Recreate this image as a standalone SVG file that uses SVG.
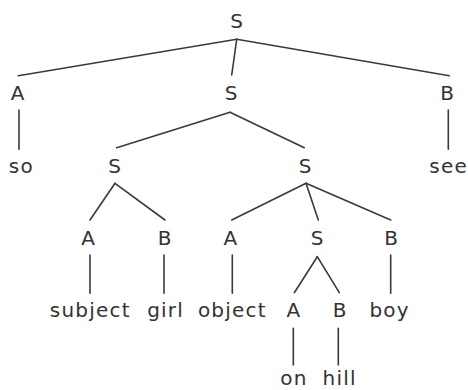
<svg xmlns="http://www.w3.org/2000/svg" width="468" height="390" viewBox="0 0 468 390">
<style>
text{font-family:"DejaVu Sans",Verdana,sans-serif;font-size:20px;fill:#333;text-anchor:middle}
.w{letter-spacing:1.2px}
#edges line{stroke:#3a3a3a;stroke-width:1.6;stroke-linecap:round}
</style>
<rect width="468" height="390" fill="#fff"/>
<g id="edges">
<line x1="236.7" y1="39.3" x2="18.3" y2="75.7"/>
<line x1="236.7" y1="39.3" x2="231.7" y2="75"/>
<line x1="236.7" y1="39.3" x2="449.3" y2="75.7"/>
<line x1="19" y1="110" x2="19" y2="149.3"/>
<line x1="448.3" y1="110" x2="448.3" y2="149.3"/>
<line x1="230" y1="112.3" x2="116.7" y2="147.7"/>
<line x1="230" y1="112.3" x2="304.3" y2="147.7"/>
<line x1="115" y1="183.3" x2="90" y2="220"/>
<line x1="115" y1="183.3" x2="165" y2="220"/>
<line x1="90" y1="255" x2="90" y2="293.3"/>
<line x1="164" y1="255" x2="164" y2="293.3"/>
<line x1="306" y1="183.3" x2="231.7" y2="220"/>
<line x1="306" y1="183.3" x2="318.3" y2="220"/>
<line x1="306" y1="183.3" x2="390.7" y2="220"/>
<line x1="232.3" y1="255" x2="232.3" y2="293.3"/>
<line x1="390.7" y1="255" x2="390.7" y2="293.3"/>
<line x1="317.3" y1="256.7" x2="294.3" y2="292.7"/>
<line x1="317.3" y1="256.7" x2="339.3" y2="292.7"/>
<line x1="293.3" y1="328.3" x2="293.3" y2="365"/>
<line x1="338.3" y1="328.3" x2="338.3" y2="365"/>
</g>
<g id="n-root"><text x="236.5" y="28">S</text></g>
<g id="n-a1"><text x="17.5" y="100">A</text></g>
<g id="n-so"><text class="w" x="21.4" y="173">so</text></g>
<g id="n-s1"><text x="231" y="100">S</text></g>
<g id="n-b1"><text x="447" y="100">B</text></g>
<g id="n-see"><text class="w" x="448.6" y="173">see</text></g>
<g id="n-s2l"><text x="114.5" y="173">S</text></g>
<g id="n-s2r"><text x="305" y="173">S</text></g>
<g id="n-a3l"><text x="88" y="245">A</text></g>
<g id="n-b3l"><text x="164.7" y="245">B</text></g>
<g id="n-subject"><text class="w" x="90.3" y="317">subject</text></g>
<g id="n-girl"><text class="w" x="165.6" y="317">girl</text></g>
<g id="n-a3r"><text x="230.3" y="245">A</text></g>
<g id="n-s3"><text x="317" y="245">S</text></g>
<g id="n-b3r"><text x="391" y="245">B</text></g>
<g id="n-object"><text class="w" x="232.3" y="317">object</text></g>
<g id="n-boy"><text class="w" x="389.6" y="317">boy</text></g>
<g id="n-a4"><text x="293.3" y="317">A</text></g>
<g id="n-b4"><text x="339.7" y="317">B</text></g>
<g id="n-on"><text class="w" x="293.9" y="385">on</text></g>
<g id="n-hill"><text class="w" x="339.6" y="385">hill</text></g>
</svg>
